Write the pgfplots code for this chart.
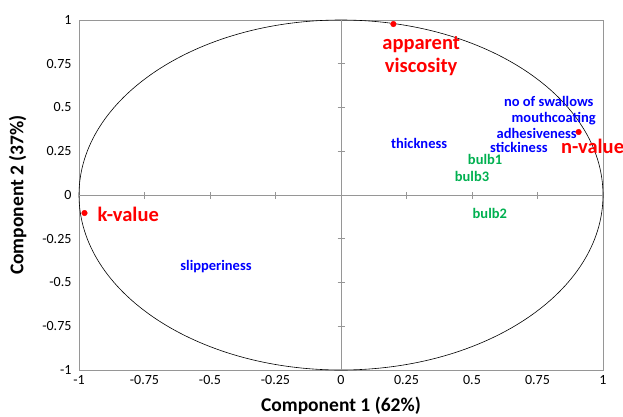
\documentclass[border=0pt]{standalone}
\usepackage{pgfplots}
\pgfplotsset{compat=1.18}
\usepackage{fontspec}
\setmainfont{Carlito}
\definecolor{lblue}{RGB}{0,0,255}
\definecolor{lgreen}{RGB}{0,176,80}
\definecolor{lred}{RGB}{255,0,0}
\definecolor{axgray}{RGB}{150,150,150}
\begin{document}
\begin{tikzpicture}
\begin{axis}[
  width=524pt, height=350pt, scale only axis,
  xmin=-1, xmax=1, ymin=-1, ymax=1,
  xtick={-1,-0.75,-0.5,-0.25,0,0.25,0.5,0.75,1},
  ytick={-1,-0.75,-0.5,-0.25,0,0.25,0.5,0.75,1},
  xticklabels={-1,-0.75,-0.5,-0.25,0,0.25,0.5,0.75,1},
  yticklabels={-1,-0.75,-0.5,-0.25,0,0.25,0.5,0.75,1},
  major tick length=0pt,
  axis line style={axgray, line width=0.8pt},
  tick label style={font=\fontsize{14}{17}\selectfont},
  xlabel={Component 1 (62\%)},
  ylabel={Component 2 (37\%)},
  label style={font=\fontsize{19.5}{23}\selectfont\bfseries},
  xticklabel style={yshift=-2pt},
  yticklabel style={xshift=-4pt},
  xlabel style={yshift=-5pt},
  ylabel style={yshift=9pt},
  clip=false,
]
\coordinate (bl) at (rel axis cs:0,0);
\draw[black, line width=0.6pt] (axis cs:0,0) ellipse [x radius=1, y radius=1];
% red variables (markers)
\addplot[only marks, mark=*, mark size=2.8pt, color=lred] coordinates {
  (0.200,0.977) (0.907,0.360) (-0.979,-0.103)
};
% red labels
\addplot[only marks, mark=none, nodes near coords, point meta=explicit symbolic,
  nodes near coords style={anchor=center, color=lred, align=center,
  font=\fontsize{20.5}{23}\selectfont\bfseries}]
  table[meta=label, col sep=comma] {
x,y,label
0.306,0.791,{apparent\\viscosity}
0.960,0.280,n-value
-0.812,-0.109,k-value
};
% blue labels
\addplot[only marks, mark=none, nodes near coords, point meta=explicit symbolic,
  nodes near coords style={anchor=center, color=lblue, inner sep=1pt,
  font=\fontsize{14.5}{17}\selectfont\bfseries}]
  table[meta=label, col sep=comma] {
x,y,label
0.793,0.537,no of swallows
0.812,0.434,mouthcoating
0.747,0.354,adhesiveness
0.679,0.272,stickiness
0.298,0.297,thickness
-0.477,-0.406,slipperiness
};
% green labels
\addplot[only marks, mark=none, nodes near coords, point meta=explicit symbolic,
  nodes near coords style={anchor=center, color=lgreen, inner sep=1pt,
  font=\fontsize{14.5}{17}\selectfont\bfseries}]
  table[meta=label, col sep=comma] {
x,y,label
0.550,0.205,bulb1
0.500,0.107,bulb3
0.568,-0.103,bulb2
};
\end{axis}
\begin{axis}[
  width=524pt, height=350pt, scale only axis,
  xmin=-1, xmax=1, ymin=-1, ymax=1,
  axis lines=middle,
  axis line style={axgray, line width=0.8pt, -},
  xtick={-0.75,-0.5,-0.25,0.25,0.5,0.75},
  ytick={-0.75,-0.5,-0.25,0.25,0.5,0.75},
  xticklabels={}, yticklabels={},
  tick align=center, major tick length=7pt,
  tick style={axgray, line width=0.8pt},
]
\end{axis}
\pgfresetboundingbox
\path (bl) ++(-79pt,-46pt) rectangle ++(623pt,416pt);
\end{tikzpicture}
\end{document}
